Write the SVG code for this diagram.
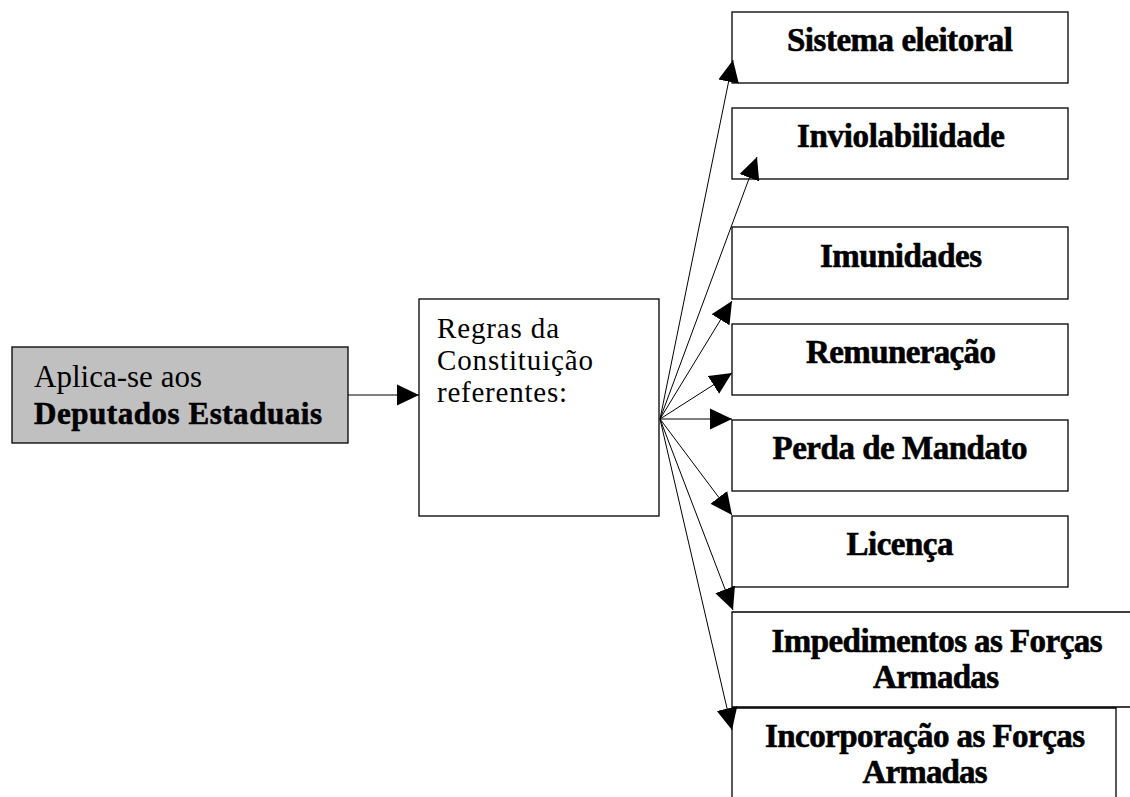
<svg xmlns="http://www.w3.org/2000/svg" width="1130" height="797" viewBox="0 0 1130 797">
<style>
.box{fill:#ffffff;stroke:#000000;stroke-width:1.3}
.gray{fill:#c0c0c0;stroke:#000000;stroke-width:1.3}
.reg{font-family:"Liberation Serif","Times New Roman",serif;font-size:31px;fill:#000}
.mid{font-size:29px}
.bold{font-family:"Liberation Serif","Times New Roman",serif;font-size:33px;font-weight:bold;fill:#000;stroke:#000;stroke-width:0.6;text-anchor:middle}
.conn{stroke:#000;stroke-width:1;fill:none;marker-end:url(#ah)}
</style>
<defs>
<marker id="ah" markerUnits="userSpaceOnUse" markerWidth="22" markerHeight="22" viewBox="0 0 21 20" refX="21" refY="10" orient="auto">
<path d="M0,0 L21,10 L0,20 Z" fill="#000"/>
</marker>
</defs>
<rect width="1130" height="797" fill="#ffffff"/>
<g id="n-aplica">
<rect class="gray" x="12" y="347" width="336" height="96"/>
<text class="reg" x="34" y="387" textLength="168">Aplica-se aos</text>
<text class="bold" x="34" y="424" style="text-anchor:start;font-size:31px" textLength="288">Deputados Estaduais</text>
</g>
<g id="n-regras">
<rect class="box" x="419" y="299" width="240" height="217"/>
<text class="reg mid" x="437" y="338" textLength="122">Regras da</text>
<text class="reg mid" x="437" y="370" textLength="156">Constituição</text>
<text class="reg mid" x="437" y="402" textLength="130">referentes:</text>
</g>
<g id="n-sistema">
<rect class="box" x="732" y="12" width="336" height="71"/>
<text class="bold" x="900" y="51" textLength="226">Sistema eleitoral</text>
</g>
<g id="n-inviolabilidade">
<rect class="box" x="732" y="108" width="336" height="71"/>
<text class="bold" x="901" y="147" textLength="208">Inviolabilidade</text>
</g>
<g id="n-imunidades">
<rect class="box" x="732" y="227" width="336" height="72"/>
<text class="bold" x="901" y="267" textLength="162">Imunidades</text>
</g>
<g id="n-remuneracao">
<rect class="box" x="732" y="324" width="336" height="71"/>
<text class="bold" x="901" y="363" textLength="190">Remuneração</text>
</g>
<g id="n-perda">
<rect class="box" x="732" y="420" width="336" height="71"/>
<text class="bold" x="900" y="459" textLength="255">Perda de Mandato</text>
</g>
<g id="n-licenca">
<rect class="box" x="732" y="516" width="336" height="71"/>
<text class="bold" x="900" y="555" textLength="107">Licença</text>
</g>
<g id="n-impedimentos">
<path class="box" d="M1135,612 L732,612 L732,707 L1135,707"/>
<text class="bold" x="937" y="652" textLength="331">Impedimentos as Forças</text>
<text class="bold" x="936" y="688" textLength="126">Armadas</text>
</g>
<g id="n-incorporacao">
<path class="box" d="M732,800 L732,708 L1116,708 L1116,800"/>
<text class="bold" x="925" y="747" textLength="320">Incorporação as Forças</text>
<text class="bold" x="925" y="783" textLength="125">Armadas</text>
</g>
<g id="connectors">
<line class="conn" x1="348" y1="395" x2="419" y2="395"/>
<line class="conn" x1="660" y1="419" x2="733" y2="60"/>
<line class="conn" x1="660" y1="419" x2="757" y2="157"/>
<line class="conn" x1="660" y1="419" x2="732" y2="301"/>
<line class="conn" x1="660" y1="419" x2="732" y2="373"/>
<line class="conn" x1="660" y1="419" x2="732" y2="419"/>
<line class="conn" x1="660" y1="419" x2="732" y2="515"/>
<line class="conn" x1="660" y1="419" x2="733" y2="610"/>
<line class="conn" x1="660" y1="419" x2="732" y2="730"/>
</g>
</svg>
